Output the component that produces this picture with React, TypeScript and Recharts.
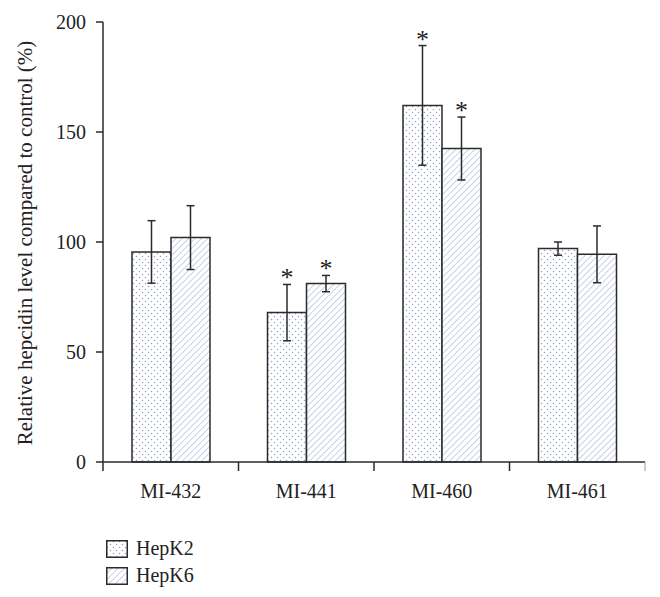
import React from "react";
import { BarChart, Bar, XAxis, YAxis, ErrorBar, LabelList } from "recharts";

const categories = ["MI-432", "MI-441", "MI-460", "MI-461"];
const hepK2 = [95.5, 67.9, 162.1, 97];
const hepK2Err = [14.2, 12.8, 27.2, 3];
const hepK2Sig = [false, true, true, false];
const hepK6 = [102, 81.1, 142.5, 94.4];
const hepK6Err = [14.5, 3.7, 14.3, 12.9];
const hepK6Sig = [false, true, true, false];
const yTicks = [0, 50, 100, 150, 200];
const seriesNames = ["HepK2", "HepK6"];

const data = categories.map((name, i) => ({
  name,
  k2: hepK2[i],
  k2err: hepK2Err[i],
  k6: hepK6[i],
  k6err: hepK6Err[i],
}));

const FONT = "'Liberation Serif', 'Times New Roman', serif";
const INK = "#2b2b2b";
const W = 660;
const H = 597;
const LEFT = 103;
const RIGHT_M = 15;
const BAND = (W - LEFT - RIGHT_M) / categories.length;

const Patterns = () => (
  <svg width={0} height={0} style={{ position: "absolute" }}>
    <defs>
      <pattern id="dots" width={6} height={6} patternUnits="userSpaceOnUse">
        <rect width={6} height={6} fill="#fff" />
        <circle cx={1.5} cy={1.5} r={0.75} fill="#8ea2cc" />
        <circle cx={4.5} cy={4.5} r={0.75} fill="#8ea2cc" />
      </pattern>
      <pattern
        id="hatch"
        width={4.5}
        height={4.5}
        patternUnits="userSpaceOnUse"
        patternTransform="rotate(45)"
      >
        <rect width={4.5} height={4.5} fill="#fff" />
        <line x1={0} y1={0} x2={0} y2={4.5} stroke="#a9bbe0" strokeWidth={1.3} />
      </pattern>
    </defs>
  </svg>
);

const XTick = (props: any) => {
  const { x, y, payload, index } = props;
  const half = BAND / 2;
  return (
    <g>
      <line x1={x - half} x2={x - half} y1={y} y2={y + 9} stroke={INK} strokeWidth={1.5} />
      {index === categories.length - 1 && (
        <line x1={x + half} x2={x + half} y1={y} y2={y + 9} stroke="#999" strokeWidth={1} />
      )}
      <text x={x} y={y + 36} textAnchor="middle" fontFamily={FONT} fontSize={20} fill="#222">
        {payload.value}
      </text>
    </g>
  );
};

const starLabel = (vals: number[], errs: number[], sig: boolean[]) => (p: any) => {
  const { x, y, width, height, index } = p;
  if (!sig[index]) return null;
  const capY = y - (errs[index] * height) / vals[index];
  return (
    <text
      x={x + width / 2}
      y={capY + 2}
      textAnchor="middle"
      fontFamily={FONT}
      fontSize={26}
      fill="#222"
      stroke="none"
    >
      *
    </text>
  );
};

const YLabel = () => (
  <text
    x={25}
    y={243}
    transform="rotate(-90, 25, 243)"
    textAnchor="middle"
    dominantBaseline="central"
    fontFamily={FONT}
    fontSize={21}
    fill="#222"
  >
    Relative hepcidin level compared to control (%)
  </text>
);

export default function App() {
  return (
    <div style={{ position: "absolute", left: 0, top: 0, width: W, height: H, background: "#fff" }}>
      <Patterns />
      <BarChart
        width={W}
        height={H}
        data={data}
        margin={{ top: 22, right: RIGHT_M, bottom: 0, left: 0 }}
        barSize={39}
        barGap={0}
      >
        <XAxis
          dataKey="name"
          height={135}
          axisLine={{ stroke: INK, strokeWidth: 1.5 }}
          tickLine={false}
          tickSize={0}
          tickMargin={0}
          interval={0}
          tick={<XTick />}
        />
        <YAxis
          width={LEFT}
          domain={[0, 200]}
          ticks={yTicks}
          axisLine={{ stroke: INK, strokeWidth: 1.5 }}
          tickLine={{ stroke: INK, strokeWidth: 1.5 }}
          tickSize={7}
          tickMargin={10}
          tick={{ fontFamily: FONT, fontSize: 20, fill: "#222" }}
          label={{ content: () => <YLabel /> }}
        />
        <Bar dataKey="k2" fill="url(#dots)" stroke={INK} strokeWidth={1.5} isAnimationActive={false}>
          <ErrorBar dataKey="k2err" direction="y" width={4} stroke={INK} strokeWidth={1.5} />
          <LabelList dataKey="k2" content={starLabel(hepK2, hepK2Err, hepK2Sig)} />
        </Bar>
        <Bar dataKey="k6" fill="url(#hatch)" stroke={INK} strokeWidth={1.5} isAnimationActive={false}>
          <ErrorBar dataKey="k6err" direction="y" width={4} stroke={INK} strokeWidth={1.5} />
          <LabelList dataKey="k6" content={starLabel(hepK6, hepK6Err, hepK6Sig)} />
        </Bar>
      </BarChart>
      {seriesNames.map((s, i) => (
        <div
          key={s}
          style={{
            position: "absolute",
            left: 106,
            top: 537 + i * 27,
            display: "flex",
            alignItems: "center",
            fontFamily: FONT,
            fontSize: 20,
            color: "#222",
          }}
        >
          <svg width={22} height={18} style={{ marginRight: 8 }}>
            <rect
              x={0.75}
              y={0.75}
              width={20.5}
              height={16.5}
              fill={i === 0 ? "url(#dots)" : "url(#hatch)"}
              stroke={INK}
              strokeWidth={1.5}
            />
          </svg>
          {s}
        </div>
      ))}
    </div>
  );
}
